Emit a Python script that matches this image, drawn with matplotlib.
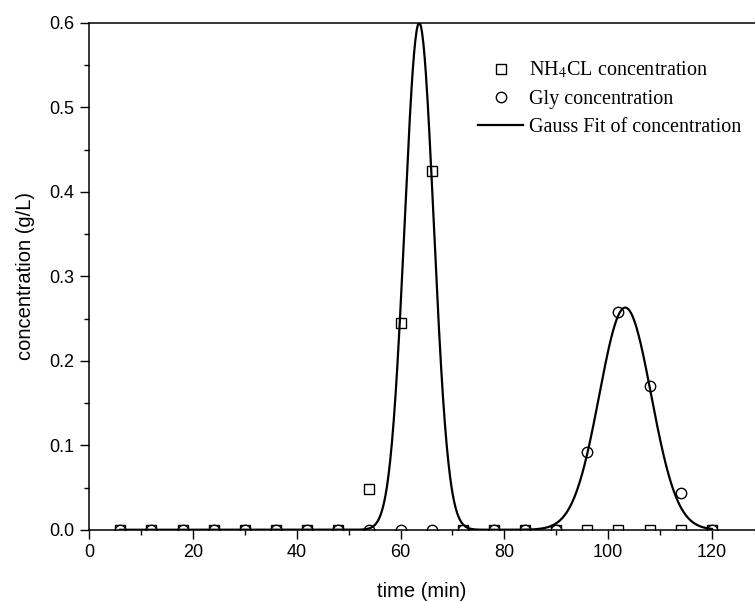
import matplotlib
matplotlib.use('Agg')
import matplotlib.pyplot as plt
import numpy as np
from matplotlib.ticker import MultipleLocator

# sampling times (min)
time = [6, 12, 18, 24, 30, 36, 42, 48, 54, 60, 66, 72, 78, 84, 90, 96,
        102, 108, 114, 120]

nh4cl = [0, 0, 0, 0, 0, 0, 0, 0, 0.048, 0.245, 0.425, 0, 0, 0, 0, 0,
         0, 0, 0, 0]
gly = [0, 0, 0, 0, 0, 0, 0, 0, 0, 0, 0, 0, 0, 0, 0, 0.092,
       0.258, 0.170, 0.044, 0]

# gauss fit parameters: centre (min), sigma (min), amplitude (g/L)
nh4cl_fit = (63.6, 2.8, 0.600)
gly_fit = (103.3, 5.0, 0.263)
fit_range = (6, 120)


def gauss(t, centre, sigma, amp):
    return amp * np.exp(-(t - centre) ** 2 / (2 * sigma ** 2))


def main():
    plt.rcParams['font.family'] = ['Liberation Sans', 'DejaVu Sans']
    plt.rcParams['mathtext.fontset'] = 'stix'

    fig = plt.figure(figsize=(7.55, 6.02), dpi=100)
    ax = fig.add_axes([0.118, 0.12, 0.882, 0.842])

    t_fit = np.linspace(fit_range[0], fit_range[1], 1000)
    c_fit = gauss(t_fit, *nh4cl_fit) + gauss(t_fit, *gly_fit)

    ax.plot(time, nh4cl, 's', ms=7, mfc='white', mec='black', mew=1.0,
            ls='none', label='NH$_4$CL concentration', zorder=2)
    ax.plot(time, gly, 'o', ms=7.5, mfc='white', mec='black', mew=1.0,
            ls='none', label='Gly concentration', zorder=2)
    ax.plot(t_fit, c_fit, color='black', lw=1.6,
            label='Gauss Fit of concentration', zorder=4)

    ax.set_xlim(0, 128.3)
    ax.set_ylim(0, 0.6)
    ax.xaxis.set_major_locator(MultipleLocator(20))
    ax.xaxis.set_minor_locator(MultipleLocator(10))
    ax.yaxis.set_minor_locator(MultipleLocator(0.05))
    ax.set_yticks(np.arange(0, 0.61, 0.1))
    ax.set_yticklabels(['0.0', '0.1', '0.2', '0.3', '0.4', '0.5', '0.6'])

    ax.tick_params(which='major', direction='out', length=6.5, width=1.0,
                   labelsize=13, pad=4, top=False, right=False)
    ax.tick_params(which='minor', direction='out', length=3.5, width=1.0,
                   top=False, right=False)
    ax.spines['right'].set_visible(False)
    for s in ['left', 'bottom', 'top']:
        ax.spines[s].set_linewidth(1.1)
        ax.spines[s].set_zorder(5)

    ax.set_xlabel('time (min)', fontsize=14.5, labelpad=15)
    ax.set_ylabel('concentration (g/L)', fontsize=14.5, labelpad=10)

    ax.legend(loc='upper left', bbox_to_anchor=(0.584, 0.927), frameon=False,
              prop={'family': 'Liberation Serif', 'size': 14.5},
              handlelength=2.25, handletextpad=0.3, labelspacing=0.45,
              borderpad=0, borderaxespad=0)

    fig.savefig('out.png', dpi=100)


if __name__ == '__main__':
    main()
